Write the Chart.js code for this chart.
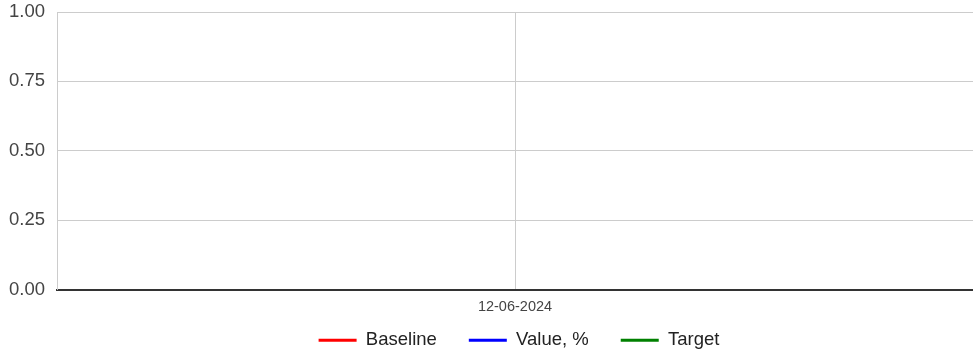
<!DOCTYPE html>
<html>
<head>
<meta charset="utf-8">
<script src="https://cdn.jsdelivr.net/npm/chart.js@4/dist/chart.umd.min.js"></script>
<style>
html,body{margin:0;padding:0;background:#fff;}
#wrap{width:973px;height:354px;position:relative;}
</style>
</head>
<body>
<div id="wrap"><canvas id="c"></canvas></div>
<script>
const categories = ['12-06-2024'];
const baselineValues = [null];
const valuePercent = [null];
const targetValues = [null];
const yTicks = [0, 0.25, 0.5, 0.75, 1];

Chart.defaults.font.family = '"Liberation Sans", Arial, sans-serif';
Chart.defaults.color = '#444';

const legendFit = {
  id: 'legendFit',
  beforeLayout(chart) {
    const lg = chart.legend;
    if (lg && !lg._patched) {
      const orig = lg.fit.bind(lg);
      lg.fit = function () { orig(); this.height = 29; };
      lg._patched = true;
    }
  },
  afterLayout(chart) {
    const lg = chart.legend;
    if (!lg) return;
    lg.top = chart.height - 55;
    lg.bottom = chart.height;
    lg.left = chart.chartArea.left + 4;
    lg.right = chart.chartArea.right + 4;
    lg.width = lg.right - lg.left;
  }
};

new Chart(document.getElementById('c'), {
  type: 'line',
  data: {
    labels: categories,
    datasets: [
      {label: 'Baseline', data: baselineValues, borderColor: '#ff0000', backgroundColor: '#ff0000', borderWidth: 2},
      {label: 'Value, %', data: valuePercent, borderColor: '#0000ff', backgroundColor: '#0000ff', borderWidth: 2},
      {label: 'Target', data: targetValues, borderColor: '#008000', backgroundColor: '#008000', borderWidth: 2}
    ]
  },
  plugins: [legendFit],
  options: {
    responsive: true,
    maintainAspectRatio: false,
    animation: false,
    layout: {autoPadding: false, padding: {top: 12, right: 0, left: 0, bottom: 0}},
    plugins: {
      tooltip: {enabled: false},
      legend: {
        position: 'bottom',
        labels: {
          boxWidth: 38,
          boxHeight: 3,
          padding: 32,
          font: {size: 18.5},
          color: '#222',
          generateLabels: (chart) => {
            const items = Chart.defaults.plugins.legend.labels.generateLabels(chart);
            items.forEach(it => { it.lineWidth = 0; });
            return items;
          }
        }
      }
    },
    scales: {
      x: {
        offset: true,
        grid: {offset: false, color: '#cccccc', drawTicks: false},
        border: {display: true, color: '#333333', width: 2},
        ticks: {font: {size: 14.5}, color: '#444', padding: 9, maxRotation: 0},
        afterFit: (s) => { s.paddingLeft = 0; s.paddingRight = 0; }
      },
      y: {
        min: 0,
        max: 1,
        afterBuildTicks: (s) => { s.ticks = yTicks.map(v => ({value: v})); },
        grid: {color: '#cccccc', drawTicks: false},
        border: {display: true, color: '#cccccc', width: 1},
        ticks: {
          font: {size: 18.5},
          color: '#444',
          padding: 12,
          callback: (v) => Number(v).toFixed(2)
        },
        afterFit: (s) => { s.paddingTop = 0; s.paddingBottom = 0; s.width = s.width - 3; }
      }
    }
  }
});
</script>
</body>
</html>
